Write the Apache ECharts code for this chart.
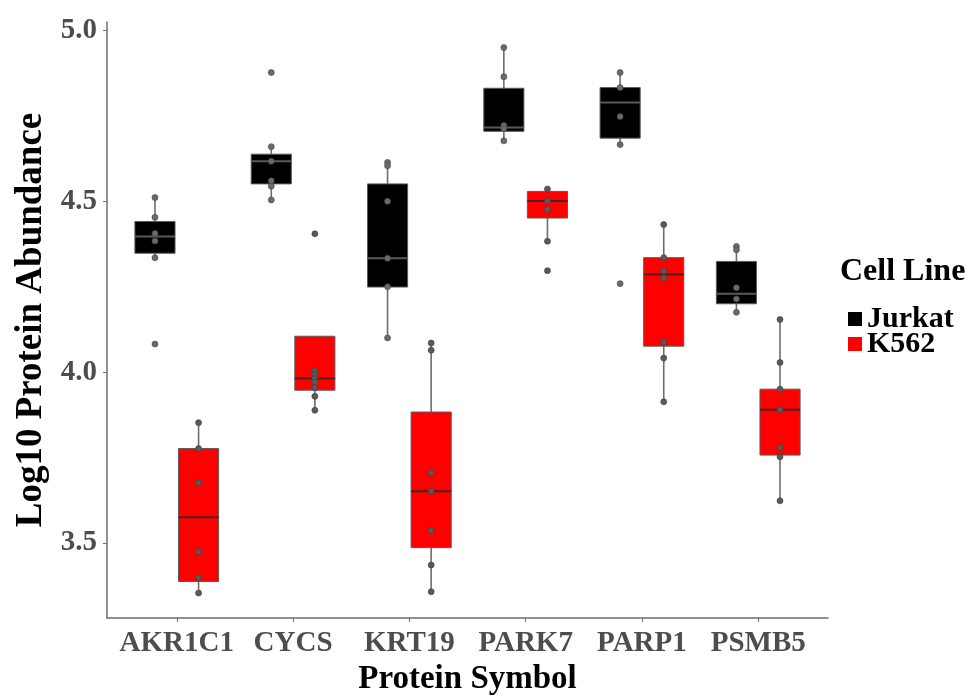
<!DOCTYPE html>
<html>
<head>
<meta charset="utf-8">
<script src="https://cdn.jsdelivr.net/npm/echarts@6/dist/echarts.min.js"></script>
<style>
html,body{margin:0;padding:0;background:#fff;}
#chart{width:976px;height:696px;}
</style>
</head>
<body>
<div id="chart"></div>
<script>
// ---- data ----
const categories = ['AKR1C1', 'CYCS', 'KRT19', 'PARK7', 'PARP1', 'PSMB5'];
const groups = ['Jurkat', 'K562'];
const yTicks = [3.5, 4.0, 4.5, 5.0];

// box stats: [lower whisker, Q1, median, Q3, upper whisker]
const jurkatBox = [
  [4.335, 4.348, 4.397, 4.441, 4.511],
  [4.504, 4.551, 4.617, 4.638, 4.660],
  [4.100, 4.249, 4.333, 4.551, 4.614],
  [4.677, 4.705, 4.716, 4.831, 4.950],
  [4.666, 4.685, 4.789, 4.833, 4.877],
  [4.175, 4.200, 4.229, 4.324, 4.368]
];
const k562Box = [
  [3.353, 3.387, 3.575, 3.776, 3.852],
  [3.888, 3.947, 3.981, 4.105, 4.105],
  [3.357, 3.486, 3.651, 3.883, 4.085],
  [4.383, 4.451, 4.501, 4.529, 4.536],
  [3.913, 4.076, 4.286, 4.335, 4.432],
  [3.623, 3.757, 3.890, 3.950, 4.154]
];

// individual observations
const jurkatPts = [
  [4.511, 4.453, 4.406, 4.384, 4.335, 4.082],
  [4.877, 4.660, 4.617, 4.560, 4.544, 4.504],
  [4.614, 4.604, 4.500, 4.333, 4.250, 4.100],
  [4.950, 4.865, 4.722, 4.713, 4.677],
  [4.877, 4.833, 4.748, 4.666, 4.259],
  [4.368, 4.358, 4.247, 4.214, 4.175]
];
const k562Pts = [
  [3.852, 3.776, 3.676, 3.474, 3.398, 3.353],
  [4.405, 4.005, 3.993, 3.981, 3.971, 3.954, 3.929, 3.888],
  [4.085, 4.064, 3.705, 3.651, 3.536, 3.435, 3.357],
  [4.536, 4.501, 4.476, 4.383, 4.297],
  [4.432, 4.335, 4.297, 4.276, 4.088, 4.041, 3.913],
  [4.154, 4.028, 3.950, 3.890, 3.779, 3.752, 3.623]
];

// ---- layout / style constants ----
const DODGE = 0.1875;
const BOX_W = 0.345;
const FONT = '"Liberation Serif", "Times New Roman", serif';
const GREY_TXT = '#4d4d4d';

function makeRender(off, fill, medColor) {
  return function (params, api) {
    const c = api.value(0) + off;
    const lo = api.coord([c, api.value(1)]);
    const q1 = api.coord([c, api.value(2)]);
    const md = api.coord([c, api.value(3)]);
    const q3 = api.coord([c, api.value(4)]);
    const hi = api.coord([c, api.value(5)]);
    const w = api.size([BOX_W, 0])[0];
    return {
      type: 'group',
      children: [
        { type: 'line', shape: { x1: hi[0], y1: hi[1], x2: q3[0], y2: q3[1] }, style: { stroke: '#6e6e6e', lineWidth: 1.6 } },
        { type: 'line', shape: { x1: lo[0], y1: lo[1], x2: q1[0], y2: q1[1] }, style: { stroke: '#6e6e6e', lineWidth: 1.6 } },
        { type: 'rect', shape: { x: q3[0] - w / 2, y: q3[1], width: w, height: q1[1] - q3[1] }, style: { fill: fill, stroke: '#5a5a5a', lineWidth: 1 } },
        { type: 'line', shape: { x1: md[0] - w / 2, y1: md[1], x2: md[0] + w / 2, y2: md[1] }, style: { stroke: medColor, lineWidth: 2 } }
      ]
    };
  };
}

function boxData(arr) { return arr.map((b, i) => [i].concat(b)); }
function ptsData(arr, off) {
  const out = [];
  arr.forEach((vals, i) => vals.forEach(v => out.push([i + off, v])));
  return out;
}

const chart = echarts.init(document.getElementById('chart'), null, { renderer: 'canvas' });
chart.setOption({
  backgroundColor: '#ffffff',
  animation: false,
  textStyle: { fontFamily: FONT },
  grid: { left: 107, right: 148, top: 22, bottom: 78, containLabel: false, outerBoundsMode: 'none' },
  title: {
    text: 'Cell Line', left: 835, top: 251,
    textStyle: { fontFamily: FONT, fontWeight: 'bold', fontSize: 32, color: '#000' }
  },
  legend: {
    data: groups, orient: 'vertical', left: 843, top: 299,
    itemWidth: 14, itemHeight: 14, itemGap: -5, icon: 'rect',
    textStyle: { fontFamily: FONT, fontWeight: 'bold', fontSize: 30, color: '#000' }
  },
  xAxis: {
    type: 'value', min: -0.6, max: 5.6,
    name: 'Protein Symbol', nameLocation: 'middle', nameGap: 45,
    nameTextStyle: { fontFamily: FONT, fontWeight: 'bold', fontSize: 33, color: '#000' },
    axisLine: { show: true, onZero: false, lineStyle: { color: '#6e6e6e', width: 1.5 } },
    axisTick: { show: true, length: 4, customValues: categories.map((c, i) => i), lineStyle: { color: '#6e6e6e' } },
    axisLabel: {
      customValues: categories.map((c, i) => i),
      formatter: v => categories[Math.round(v)] || '',
      fontFamily: FONT, fontWeight: 'bold', fontSize: 29, color: GREY_TXT, margin: 11
    },
    splitLine: { show: false }
  },
  yAxis: {
    type: 'value', min: 3.28, max: 5.025,
    name: 'Log10 Protein Abundance', nameLocation: 'middle', nameGap: 57,
    nameTextStyle: { fontFamily: FONT, fontWeight: 'bold', fontSize: 37, color: '#000' },
    axisLine: { show: true, onZero: false, lineStyle: { color: '#6e6e6e', width: 1.5 } },
    axisTick: { show: true, length: 4, customValues: yTicks, lineStyle: { color: '#6e6e6e' } },
    axisLabel: {
      customValues: yTicks, formatter: v => v.toFixed(1),
      fontFamily: FONT, fontWeight: 'bold', fontSize: 29, color: GREY_TXT, margin: 10
    },
    splitLine: { show: false }
  },
  series: [
    {
      name: 'Jurkat', type: 'custom', itemStyle: { color: '#000000' },
      renderItem: makeRender(-DODGE, '#000000', '#5a5a5a'),
      encode: { x: 0, y: [1, 2, 3, 4, 5] },
      data: boxData(jurkatBox), z: 2
    },
    {
      name: 'K562', type: 'custom', itemStyle: { color: '#ff0000' },
      renderItem: makeRender(DODGE, '#ff0000', '#4a2020'),
      encode: { x: 0, y: [1, 2, 3, 4, 5] },
      data: boxData(k562Box), z: 2
    },
    {
      name: 'Jurkat points', type: 'scatter', symbol: 'circle', symbolSize: 6,
      itemStyle: { color: '#6a6a6a', borderColor: '#444', borderWidth: 0.6, opacity: 1 },
      data: ptsData(jurkatPts, -DODGE), z: 3
    },
    {
      name: 'K562 points', type: 'scatter', symbol: 'circle', symbolSize: 6,
      itemStyle: { color: '#5a5a5a', borderColor: '#3a3a3a', borderWidth: 0.6, opacity: 1 },
      data: ptsData(k562Pts, DODGE), z: 3
    }
  ]
});
</script>
</body>
</html>
